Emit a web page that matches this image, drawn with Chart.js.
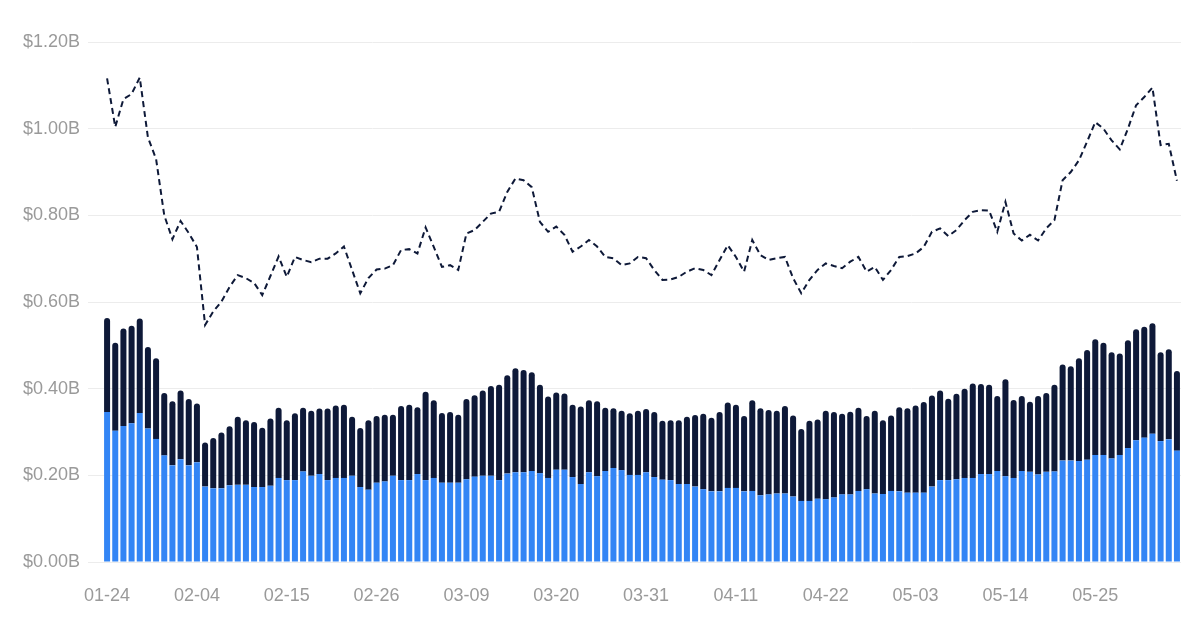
<!DOCTYPE html>
<html>
<head>
<meta charset="utf-8">
<script src="https://cdn.jsdelivr.net/npm/chart.js@4.4.0/dist/chart.umd.min.js"></script>
<style>
  html, body { margin: 0; padding: 0; background: #ffffff; }
  #wrap { width: 1200px; height: 634px; }
</style>
</head>
<body>
<div id="wrap"><canvas id="chart" width="1200" height="634"></canvas></div>
<script>
// day labels, 01-24 .. 06-04
var days = [
  '01-24','01-25','01-26','01-27','01-28','01-29','01-30','01-31',
  '02-01','02-02','02-03','02-04','02-05','02-06','02-07','02-08','02-09','02-10','02-11','02-12','02-13','02-14',
  '02-15','02-16','02-17','02-18','02-19','02-20','02-21','02-22','02-23','02-24','02-25','02-26','02-27','02-28',
  '03-01','03-02','03-03','03-04','03-05','03-06','03-07','03-08','03-09','03-10','03-11','03-12','03-13','03-14',
  '03-15','03-16','03-17','03-18','03-19','03-20','03-21','03-22','03-23','03-24','03-25','03-26','03-27','03-28',
  '03-29','03-30','03-31',
  '04-01','04-02','04-03','04-04','04-05','04-06','04-07','04-08','04-09','04-10','04-11','04-12','04-13','04-14',
  '04-15','04-16','04-17','04-18','04-19','04-20','04-21','04-22','04-23','04-24','04-25','04-26','04-27','04-28',
  '04-29','04-30',
  '05-01','05-02','05-03','05-04','05-05','05-06','05-07','05-08','05-09','05-10','05-11','05-12','05-13','05-14',
  '05-15','05-16','05-17','05-18','05-19','05-20','05-21','05-22','05-23','05-24','05-25','05-26','05-27','05-28',
  '05-29','05-30','05-31',
  '06-01','06-02','06-03','06-04'
];

// lower (blue) part of each bar, in $B
var bottomPart = [
  0.346,0.303,0.314,0.320,0.344,0.308,0.284,0.246,0.223,0.237,0.223,0.230,0.174,0.170,0.170,0.177,0.178,0.178,0.173,0.173,
  0.176,0.194,0.189,0.189,0.209,0.199,0.203,0.189,0.194,0.194,0.199,0.173,0.167,0.183,0.186,0.199,0.189,0.189,0.203,0.189,
  0.194,0.183,0.183,0.183,0.191,0.197,0.199,0.199,0.189,0.204,0.207,0.207,0.210,0.205,0.194,0.213,0.213,0.196,0.180,0.207,
  0.198,0.210,0.217,0.212,0.201,0.201,0.207,0.196,0.190,0.189,0.180,0.180,0.174,0.168,0.163,0.163,0.171,0.171,0.163,0.164,
  0.154,0.156,0.158,0.158,0.151,0.141,0.141,0.146,0.145,0.149,0.156,0.156,0.164,0.168,0.158,0.157,0.164,0.163,0.160,0.160,
  0.160,0.174,0.189,0.189,0.191,0.194,0.194,0.203,0.203,0.210,0.198,0.194,0.210,0.208,0.202,0.208,0.209,0.234,0.234,0.233,
  0.236,0.247,0.247,0.239,0.247,0.263,0.281,0.287,0.296,0.279,0.283,0.257
];

// upper (navy) part stacked on top, in $B
var topPart = [
  0.217,0.203,0.225,0.225,0.218,0.188,0.186,0.144,0.148,0.159,0.153,0.136,0.102,0.116,0.129,0.136,0.157,0.149,0.150,0.137,
  0.155,0.162,0.138,0.154,0.147,0.150,0.151,0.165,0.167,0.169,0.136,0.136,0.160,0.154,0.154,0.141,0.171,0.174,0.154,0.204,
  0.179,0.161,0.163,0.157,0.185,0.188,0.197,0.207,0.220,0.227,0.240,0.236,0.228,0.204,0.188,0.178,0.176,0.167,0.179,0.166,
  0.173,0.146,0.138,0.137,0.142,0.148,0.146,0.150,0.136,0.138,0.147,0.155,0.165,0.174,0.170,0.183,0.197,0.192,0.174,0.209,
  0.201,0.195,0.191,0.202,0.187,0.166,0.185,0.183,0.204,0.197,0.186,0.191,0.192,0.169,0.191,0.170,0.174,0.194,0.195,0.201,
  0.209,0.210,0.207,0.188,0.197,0.206,0.218,0.208,0.206,0.173,0.224,0.180,0.173,0.162,0.181,0.182,0.200,0.222,0.218,0.237,
  0.253,0.267,0.259,0.245,0.234,0.249,0.256,0.256,0.255,0.205,0.208,0.184
];

// dashed line, in $B
var lineValues = [
  1.116,1.004,1.068,1.080,1.118,0.980,0.930,0.800,0.745,0.787,0.759,0.727,0.547,0.578,0.601,0.635,0.662,0.655,0.644,0.616,
  0.660,0.705,0.658,0.704,0.697,0.692,0.700,0.700,0.712,0.728,0.674,0.620,0.655,0.675,0.677,0.685,0.720,0.722,0.712,0.772,
  0.727,0.681,0.685,0.674,0.758,0.766,0.785,0.804,0.808,0.854,0.885,0.881,0.865,0.785,0.762,0.774,0.755,0.716,0.728,0.743,
  0.728,0.704,0.701,0.685,0.689,0.704,0.701,0.674,0.651,0.652,0.658,0.670,0.678,0.674,0.662,0.697,0.731,0.704,0.670,0.743,
  0.708,0.697,0.701,0.704,0.655,0.620,0.651,0.674,0.689,0.683,0.678,0.693,0.704,0.670,0.681,0.651,0.674,0.704,0.706,0.712,
  0.727,0.762,0.770,0.752,0.766,0.789,0.808,0.812,0.811,0.762,0.831,0.758,0.742,0.755,0.742,0.770,0.789,0.881,0.900,0.927,
  0.970,1.015,1.000,0.973,0.952,1.000,1.054,1.073,1.095,0.962,0.965,0.880
];

var yTicks = [0, 0.2, 0.4, 0.6, 0.8, 1.0, 1.2];

var blue = '#3385f5';
var navy = '#0e1938';
var labelColor = '#9a9a9a';
var gridColor = '#ececec';

var ctx = document.getElementById('chart');

new Chart(ctx, {
    data: {
        labels: days,
        datasets: [
            {
                type: 'line',
                data: lineValues,
                borderColor: navy,
                borderWidth: 2,
                borderDash: [6, 4],
                pointRadius: 0,
                tension: 0,
                fill: false,
                stack: 'line',
                order: 0
            },
            {
                type: 'bar',
                data: bottomPart,
                backgroundColor: blue,
                stack: 'bars',
                categoryPercentage: 0.8,
                barPercentage: 0.92,
                order: 1
            },
            {
                type: 'bar',
                data: topPart,
                backgroundColor: navy,
                stack: 'bars',
                categoryPercentage: 0.8,
                barPercentage: 0.92,
                borderRadius: {topLeft: 3, topRight: 3, bottomLeft: 0, bottomRight: 0},
                borderSkipped: false,
                order: 1
            }
        ]
    },
    options: {
        responsive: false,
        animation: false,
        layout: {
            padding: {top: 42, right: 17, bottom: 0, left: 0}
        },
        plugins: {
            legend: {display: false},
            tooltip: {enabled: false}
        },
        scales: {
            x: {
                stacked: true,
                grid: {display: false, drawTicks: false},
                border: {display: false},
                ticks: {
                    autoSkip: false,
                    maxRotation: 0,
                    padding: 23,
                    color: labelColor,
                    font: {family: 'Liberation Sans', size: 18},
                    callback: function (value, index) {
                        return index % 11 === 0 ? days[index] : '';
                    }
                },
                afterFit: function (scale) {
                    scale.height = 72;
                }
            },
            y: {
                stacked: true,
                min: 0,
                max: 1.2,
                afterBuildTicks: function (scale) {
                    scale.ticks = yTicks.map(function (v) { return {value: v}; });
                },
                grid: {
                    color: gridColor,
                    lineWidth: 1,
                    drawTicks: true,
                    tickLength: 15,
                    tickColor: gridColor
                },
                border: {display: false},
                ticks: {
                    padding: 8,
                    color: labelColor,
                    font: {family: 'Liberation Sans', size: 18},
                    callback: function (value) {
                        return '$' + value.toFixed(2) + 'B';
                    }
                },
                afterFit: function (scale) {
                    scale.width = 103;
                }
            }
        }
    }
});
</script>
</body>
</html>
